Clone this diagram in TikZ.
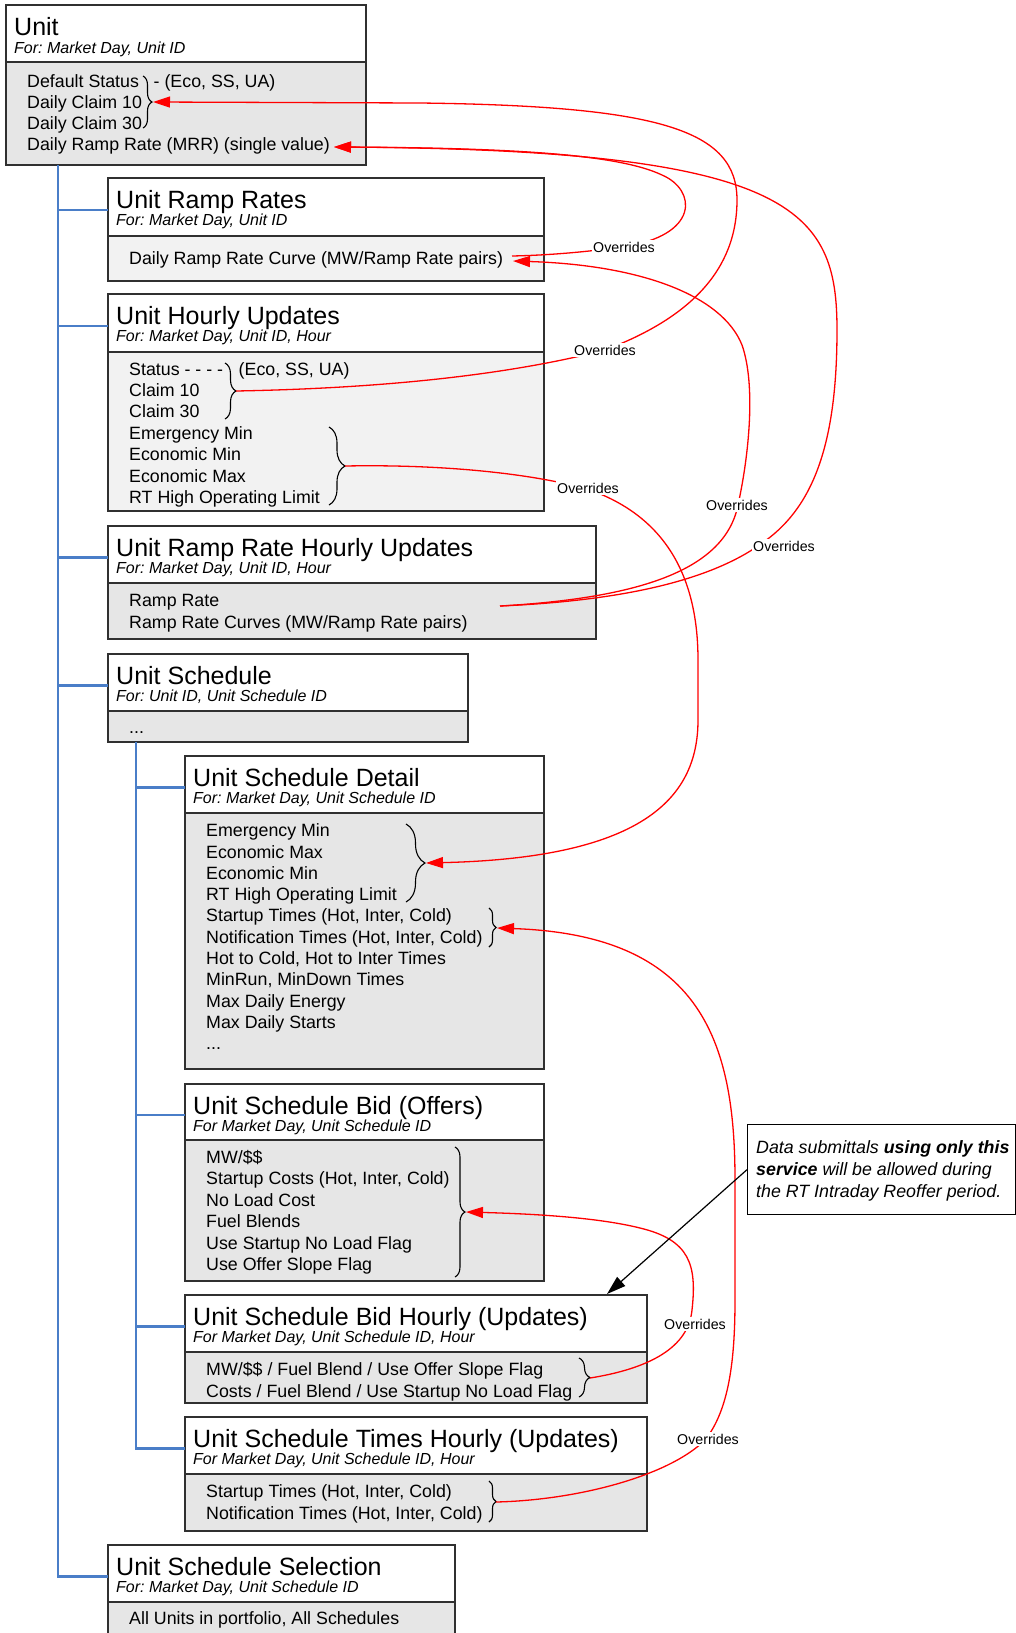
\documentclass[tikz,border=0pt]{standalone}
\usepackage{fontspec}
\setmainfont{Liberation Sans}
\usetikzlibrary{arrows.meta,decorations.pathreplacing,calc}
\definecolor{treeblue}{HTML}{4A7EC8}
\definecolor{bodygray}{HTML}{E6E6E6}
\definecolor{bodylight}{HTML}{F2F2F2}
\definecolor{edgecol}{HTML}{303030}
\frenchspacing
\newcommand\threedots{...}
\newcommand\mkbox[7]{%
  \node[hdr, minimum width={(#6-#2)*1pt}, minimum height={(#4-#3)*1pt}] (h#1) at (#2,#3) {};
  \node[#7, minimum width={(#6-#2)*1pt}, minimum height={(#5-#4)*1pt}] (b#1) at (#2,#4) {};
}
\newcommand\mklines[5]{%
  \foreach \lntext [count=\i] in {#5} { \node[txt] (#1\i) at (#2, {#3+(\i-1)*#4}) {\lntext}; }
}
\begin{document}
\begin{tikzpicture}[x=1pt,y=-1pt,
  hdr/.style={draw=edgecol,line width=1.3pt,fill=white,anchor=north west,inner sep=0pt,outer sep=0pt},
  bdy/.style={hdr,fill=bodygray},
  bdyl/.style={hdr,fill=bodylight},
  ttl/.style={anchor=base west,inner sep=0pt,font=\fontsize{25}{30}\selectfont\frenchspacing},
  subt/.style={anchor=base west,inner sep=0pt,font=\fontsize{16}{19}\selectfont\itshape\frenchspacing},
  txt/.style={anchor=base west,inner sep=0pt,font=\fontsize{17.8}{21}\selectfont\frenchspacing},
  lbl/.style={fill=white,inner sep=1.5pt,font=\fontsize{14.2}{16}\selectfont},
  ovr/.style={draw=red,line width=1.3pt,-{Triangle[length=17pt,width=11pt]}},
  treeline/.style={draw=treeblue,line width=2.5pt},
  brc/.style={draw=black,line width=1.1pt,decorate,decoration={brace,amplitude=#1}},
  notebox/.style={draw=black,line width=1.3pt,anchor=north west,inner sep=0pt,fill=white}
]
\useasboundingbox (0,0) rectangle (1016,1633);
\clip (0,0) rectangle (1016,1633);
\fill[white] (0,0) rectangle (1016,1633);

% boxes: name, left, top, divider, bottom, right, body style
\mkbox{1}{6}{5}{62}{165}{366}{bdy}
\mkbox{2}{108}{178}{236}{281}{544}{bdyl}
\mkbox{3}{108}{294}{352}{511}{544}{bdyl}
\mkbox{4}{108}{526}{583}{639}{596}{bdy}
\mkbox{5}{108}{654}{711}{742}{468}{bdy}
\mkbox{6}{185}{756}{813}{1069}{544}{bdy}
\mkbox{7}{185}{1084}{1140}{1281}{544}{bdy}
\mkbox{8}{185}{1295}{1352}{1403}{647}{bdy}
\mkbox{9}{185}{1417}{1474}{1531}{647}{bdy}
\mkbox{10}{108}{1545}{1602}{1660}{455}{bdy}

% tree lines
\coordinate (tx) at (58,0);
\coordinate (ty) at (136,0);
\foreach \n in {2,3,4,5,6,7,8,9,10} { \path ($(h\n.west)+(0,3)$) coordinate (j\n); }
\draw[treeline] (b1.south -| tx) -- (j10 -| tx) -- (j10);
\foreach \n in {2,3,4,5} { \draw[treeline] (j\n -| tx) -- (j\n); }
\draw[treeline] (b5.south -| ty) -- (j9 -| ty) -- (j9);
\foreach \n in {6,7,8} { \draw[treeline] (j\n -| ty) -- (j\n); }

% titles
\node[ttl] (t1) at (14,35) {Unit};
\node[subt] (s1) at (14,53) {For: Market Day, Unit ID};
\node[ttl] (t2) at (116,208.5) {Unit Ramp Rates};
\node[subt] (s2) at (116,225) {For: Market Day, Unit ID};
\node[ttl] (t3) at (116,324.5) {Unit Hourly Updates};
\node[subt] (s3) at (116,341) {For: Market Day, Unit ID, Hour};
\node[ttl] (t4) at (116,556.5) {Unit Ramp Rate Hourly Updates};
\node[subt] (s4) at (116,573) {For: Market Day, Unit ID, Hour};
\node[ttl] (t5) at (116,684.5) {Unit Schedule};
\node[subt] (s5) at (116,701) {For: Unit ID, Unit Schedule ID};
\node[ttl] (t6) at (193,786.5) {Unit Schedule Detail};
\node[subt] (s6) at (193,803) {For: Market Day, Unit Schedule ID};
\node[ttl] (t7) at (193,1114.5) {Unit Schedule Bid (Offers)};
\node[subt] (s7) at (193,1131) {For Market Day, Unit Schedule ID};
\node[ttl] (t8) at (193,1325.5) {Unit Schedule Bid Hourly (Updates)};
\node[subt] (s8) at (193,1342) {For Market Day, Unit Schedule ID, Hour};
\node[ttl] (t9) at (193,1447.5) {Unit Schedule Times Hourly (Updates)};
\node[subt] (s9) at (193,1464) {For Market Day, Unit Schedule ID, Hour};
\node[ttl] (t10) at (116,1575.5) {Unit Schedule Selection};
\node[subt] (s10) at (116,1592) {For: Market Day, Unit Schedule ID};

% body lines
\mklines{ua}{27}{87.3}{20.9}{Default Status, Daily Claim 10, Daily Claim 30, Daily Ramp Rate (MRR) (single value)}
\node[txt] (uax) at (153.5,87.3) {- (Eco, SS, UA)};
\mklines{ub}{129}{264}{21}{Daily Ramp Rate Curve (MW/Ramp Rate pairs)}
\mklines{uc}{129}{375}{21.4}{Status - - - -, Claim 10, Claim 30, Emergency Min, Economic Min, Economic Max, RT High Operating Limit}
\node[txt] (ucx) at (238.5,375) {(Eco, SS, UA)};
\mklines{ud}{129}{606}{22}{Ramp Rate, Ramp Rate Curves (MW/Ramp Rate pairs)}
\node[txt] (ue1) at (129,733) {\threedots};
\mklines{uf}{206}{836.7}{21.3}{Emergency Min, Economic Max, Economic Min, RT High Operating Limit, {Startup Times (Hot, Inter, Cold)}, {Notification Times (Hot, Inter, Cold)}, {Hot to Cold, Hot to Inter Times}, {MinRun, MinDown Times}, Max Daily Energy, Max Daily Starts, \threedots}
\mklines{ug}{206}{1163}{21.5}{MW/\$\$, {Startup Costs (Hot, Inter, Cold)}, No Load Cost, Fuel Blends, Use Startup No Load Flag, Use Offer Slope Flag}
\mklines{uh}{206}{1375.5}{22}{MW/\$\$ / Fuel Blend / Use Offer Slope Flag, Costs / Fuel Blend / Use Startup No Load Flag}
\mklines{ui}{206}{1497}{22}{{Startup Times (Hot, Inter, Cold)}, {Notification Times (Hot, Inter, Cold)}}
\node[txt] (uj1) at (129,1624) {All Units in portfolio, All Schedules};

% braces
\draw[brc=9pt] (143,76) -- (143,128);
\draw[brc=11pt] (225,363) -- (225,419);
\draw[brc=16pt] (329,427) -- (329,505);
\draw[brc=19pt] (406,824) -- (406,902);
\draw[brc=7pt] (489,908) -- (489,947);
\draw[brc=10pt] (455,1147) -- (455,1277);
\draw[brc=11pt] (579,1358) -- (579,1397);
\draw[brc=7pt] (489,1481) -- (489,1522);

% brace tips and connector ends
\coordinate (k1) at (153,102);
\coordinate (k2) at (236,391);
\coordinate (k3) at (345,466);
\coordinate (k4) at (426,863);
\coordinate (k5) at (497,928);
\coordinate (k6) at (466,1212);
\coordinate (k7) at (590,1378);
\coordinate (k8) at (496,1502);
\coordinate (m1) at (334,147);
\coordinate (r2) at (512,256);
\coordinate (r2b) at (513,261);
\coordinate (r4) at (500,606);

% override connectors
\draw[ovr] (k2) .. controls (400,388) and (520,372) .. (605,350) .. controls (690,318) and (737,270) .. (737,200) .. controls (737,130) and (660,106) .. (420,103) -- (k1);
\draw[ovr] (r2) .. controls (560,255) and (600,250) .. (622,247) .. controls (700,236) and (697,190) .. (662,175) .. controls (620,155) and (520,148) .. (m1);
\draw[ovr] (r4) .. controls (640,600) and (720,575) .. (765,541) .. controls (815,505) and (837,440) .. (837,330) .. controls (837,210) and (795,150) .. (m1);
\draw[ovr] (r4) .. controls (640,598) and (725,570) .. (738,505) .. controls (749,455) and (756,385) .. (742,345) .. controls (722,295) and (640,265) .. (r2b);
\draw[ovr] (k3) .. controls (450,464) and (540,475) .. (590,490) .. controls (660,515) and (698,570) .. (698,660) -- (698,720) .. controls (698,800) and (640,858) .. (k4);
\draw[ovr] (k8) .. controls (580,1500) and (670,1475) .. (705,1440) .. controls (729,1410) and (735,1360) .. (735,1300) -- (735,1180) .. controls (735,1040) and (700,935) .. (k5);
\draw[ovr] (k7) .. controls (640,1370) and (688,1352) .. (692,1310) .. controls (697,1265) and (690,1240) .. (640,1228) .. controls (600,1218) and (540,1214) .. (k6);

% labels
\node[lbl] (la) at (605,350) {Overrides};
\node[lbl] (lb) at (624,247) {Overrides};
\node[lbl] (lc) at (784,546) {Overrides};
\node[lbl] (ld) at (737,505) {Overrides};
\node[lbl] (le) at (588,488) {Overrides};
\node[lbl] (lf) at (708,1439) {Overrides};
\node[lbl] (lg) at (695,1324) {Overrides};

% note
\node[notebox, minimum width=268pt, minimum height=90pt] (note) at (747,1124) {};
\node[txt, font=\fontsize{17.8}{21}\selectfont\itshape] (n1) at (756,1153) {Data submittals \textbf{using only this}};
\node[txt, font=\fontsize{17.8}{21}\selectfont\itshape] (n2) at (756,1175) {\textbf{service} will be allowed during};
\node[txt, font=\fontsize{17.8}{21}\selectfont\itshape] (n3) at (756,1197) {the RT Intraday Reoffer period.};
\coordinate (ne) at (607,1294);
\draw[black,line width=1.2pt,-{Triangle[length=19pt,width=12pt]}] (note.west) -- (ne);
\end{tikzpicture}
\end{document}
